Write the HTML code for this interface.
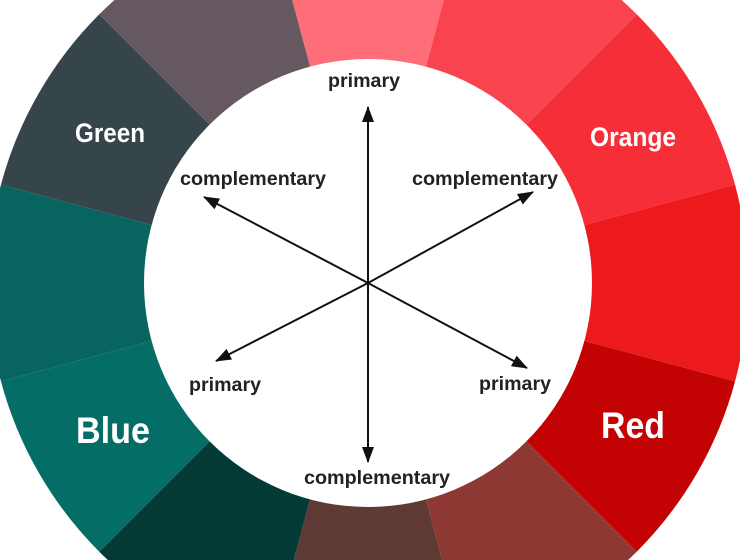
<!DOCTYPE html>
<html><head><meta charset="utf-8"><style>
html,body{margin:0;padding:0;background:#fff;overflow:hidden;width:740px;height:560px}
#wrap{position:relative;width:740px;height:560px;overflow:hidden}
svg{display:block;overflow:hidden}
.t{font-family:"Liberation Sans",sans-serif;font-weight:bold;fill:#222;font-size:19px}
.w{font-family:"Liberation Sans",sans-serif;font-weight:bold;fill:#fff}
</style></head><body>
<div id="wrap">
<svg id="s" width="740" height="560" viewBox="0 0 740 560" xmlns="http://www.w3.org/2000/svg">
<defs>
<clipPath id="c"><rect x="0" y="0" width="740" height="560"/></clipPath>
<marker id="b" viewBox="0 0 16 16" markerWidth="16" markerHeight="16" refX="15" refY="8" orient="auto" markerUnits="userSpaceOnUse"><path d="M0,2 L16,8 L0,14 z" fill="#111"/></marker></defs>
<g id="wedges" clip-path="url(#c)"></g>
<circle cx="368" cy="283" r="224" fill="#fff"/>
<g stroke="#111" stroke-width="2" marker-end="url(#b)">
<line x1="368" y1="283" x2="368" y2="107"/>
<line x1="368" y1="283" x2="368" y2="462"/>
<line x1="368" y1="283" x2="204" y2="197"/>
<line x1="368" y1="283" x2="533" y2="192"/>
<line x1="368" y1="283" x2="216" y2="361"/>
<line x1="368" y1="283" x2="527" y2="368"/>
</g>
<g class="t" text-anchor="middle">
<text x="364" y="87" textLength="72" lengthAdjust="spacingAndGlyphs">primary</text>
<text x="253" y="185" textLength="146" lengthAdjust="spacingAndGlyphs">complementary</text>
<text x="485" y="185" textLength="146" lengthAdjust="spacingAndGlyphs">complementary</text>
<text x="225" y="391" textLength="72" lengthAdjust="spacingAndGlyphs">primary</text>
<text x="515" y="390" textLength="72" lengthAdjust="spacingAndGlyphs">primary</text>
<text x="377" y="484" textLength="146" lengthAdjust="spacingAndGlyphs">complementary</text>
</g>
<g class="w" text-anchor="middle">
<text x="110" y="142" font-size="27" textLength="70" lengthAdjust="spacingAndGlyphs">Green</text>
<text x="633" y="146" font-size="27" textLength="86" lengthAdjust="spacingAndGlyphs">Orange</text>
<text x="113" y="443" font-size="37" textLength="74" lengthAdjust="spacingAndGlyphs">Blue</text>
<text x="633" y="438" font-size="37" textLength="64" lengthAdjust="spacingAndGlyphs">Red</text>
</g>
</svg>
</div>
<script>
(function(){
var cols=["#fe6e78","#f9444f","#f52e38","#ed1a1d","#c30204","#8e3834","#5f3a35","#033a35","#046d66","#08645f","#36454a","#655860"];
var cx=368,cy=283,R=380,g=document.getElementById("wedges"),ns="http://www.w3.org/2000/svg";
for(var i=0;i<12;i++){
 var a1=(i*30-15)*Math.PI/180,a2=(i*30+15)*Math.PI/180;
 var x1=cx+R*Math.sin(a1),y1=cy-R*Math.cos(a1),x2=cx+R*Math.sin(a2),y2=cy-R*Math.cos(a2);
 var p=document.createElementNS(ns,"path");
 p.setAttribute("d","M"+cx+","+cy+" L"+x1+","+y1+" A"+R+","+R+" 0 0 1 "+x2+","+y2+" Z");
 p.setAttribute("fill",cols[i]);
 g.appendChild(p);
}
})();
</script>
</body></html>
